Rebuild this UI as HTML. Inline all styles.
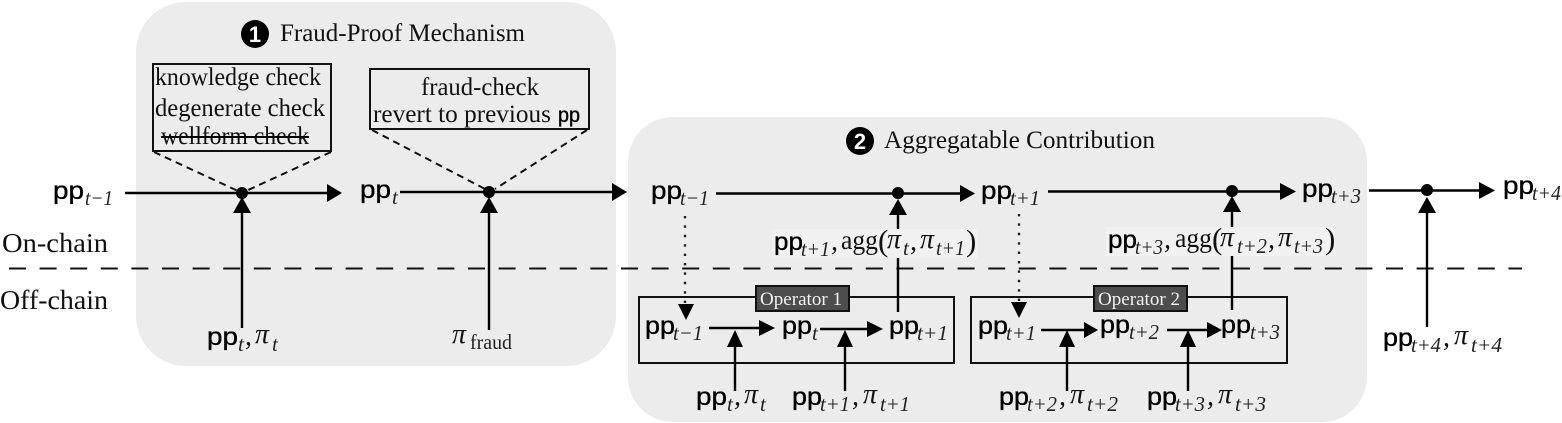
<!DOCTYPE html>
<html><head><meta charset="utf-8"><style>
html,body{margin:0;padding:0;background:#fff}
svg{display:block;filter:blur(0.35px)}
.s{font-family:"Liberation Serif",serif;font-size:25px;fill:#111}
.p{font-family:"Liberation Sans",sans-serif;font-size:25px;fill:#000;stroke:#000;stroke-width:.35}
.u{font-family:"Liberation Serif",serif;font-size:21px;font-style:italic;fill:#222}
.g{font-family:"Liberation Serif",serif;font-size:28px;font-style:italic;fill:#111}
.m{font-family:"Liberation Serif",serif;font-size:27px;fill:#111}
.b{font-family:"Liberation Serif",serif;font-size:31px;fill:#111}
.l{stroke:#000;stroke-width:2.4;fill:none}
</style></head><body>
<svg width="1562" height="423" viewBox="0 0 1562 423" xmlns="http://www.w3.org/2000/svg">
<rect x="136" y="2" width="480" height="364" rx="50" fill="#ececec"/>
<rect x="628" y="117" width="739" height="305" rx="45" fill="#ececec"/>
<!-- dashed divider -->
<line x1="9" y1="268.500" x2="1522" y2="268.500" stroke="#111" stroke-width="2" stroke-dasharray="17 13.600"/>
<!-- boxes -->
<rect x="153" y="64" width="178" height="87" fill="none" stroke="#111" stroke-width="2"/>
<rect x="370" y="69" width="219" height="60" fill="none" stroke="#111" stroke-width="2"/>
<rect x="639" y="297" width="315" height="66" fill="none" stroke="#111" stroke-width="2"/>
<rect x="971" y="297" width="316" height="66" fill="none" stroke="#111" stroke-width="2"/>
<rect x="756" y="286" width="93" height="25" fill="#4d4d4d" stroke="#111" stroke-width="2"/>
<rect x="1094" y="286" width="93" height="25" fill="#4d4d4d" stroke="#111" stroke-width="2"/>
<text x="760" y="305" font-family="Liberation Serif,serif" font-size="19" fill="#f2f2f2" textLength="82" lengthAdjust="spacingAndGlyphs">Operator 1</text>
<text x="1098" y="305" font-family="Liberation Serif,serif" font-size="19" fill="#f2f2f2" textLength="82" lengthAdjust="spacingAndGlyphs">Operator 2</text>
<!-- label backgrounds -->
<rect x="772" y="229" width="206" height="29" fill="#f1f1f1"/>
<rect x="1106" y="227" width="229" height="29" fill="#f1f1f1"/>
<!-- dashed callouts -->
<g stroke="#111" stroke-width="2" stroke-dasharray="7 5" fill="none">
<path d="M154 152L238 191M331 152L246 191M372 130L485 189M587 130L495 189"/>
</g>
<!-- dotted -->
<g stroke="#222" stroke-width="2.400" stroke-dasharray="2.400 7" fill="none">
<path d="M685 216V304M1019 214V302"/>
</g>
<!-- main lines -->
<g class="l">
<path d="M125 193H330"/>
<path d="M400 192H614"/>
<path d="M716 193.500H962"/>
<path d="M1048 191.500H1282"/>
<path d="M1369 190.500H1480"/>
<path d="M242 212V328M489 212V330"/>
<path d="M898 214V229M898 258V312"/>
<path d="M1232 212V227M1232 256V310"/>
<path d="M1427 212V327"/>
<path d="M709 328H762M820 329H870M1041 330H1086M1167 330H1210"/>
<path d="M735 346V391M845 346V391M1067 346V391M1188 346V391"/>
</g>
<!-- arrowheads -->
<g fill="#000">
<path d="M342 193L327 184V202Z"/>
<path d="M627 192L612 183V201Z"/>
<path d="M975 193.500L960 185V202Z"/>
<path d="M1296 191.500L1280 183V200Z"/>
<path d="M1495 190.500L1479 182V199Z"/>
<path d="M242 197L233 213H251Z"/>
<path d="M489 197L480 213H498Z"/>
<path d="M898 199L889 215H907Z"/>
<path d="M1232 196L1223 212H1241Z"/>
<path d="M1427 197L1418 213H1436Z"/>
<path d="M686 320L678 304H694Z"/>
<path d="M1019 318L1011 302H1027Z"/>
<path d="M775 328L759 320V336Z"/>
<path d="M883 329L867 321V337Z"/>
<path d="M1098 330L1084 322V338Z"/>
<path d="M1222 330L1207 322V338Z"/>
<path d="M735 330L727 347H743Z"/>
<path d="M845 330L837 347H853Z"/>
<path d="M1067 330L1059 347H1075Z"/>
<path d="M1188 330L1180 347H1196Z"/>
<circle cx="242" cy="193" r="6"/>
<circle cx="489" cy="192" r="6"/>
<circle cx="898" cy="193" r="6"/>
<circle cx="1232" cy="191" r="6"/>
<circle cx="1427" cy="190" r="6"/>
<circle cx="255" cy="34" r="14"/>
<circle cx="860" cy="141" r="14"/>
</g>
<text x="255" y="42" text-anchor="middle" font-family="Liberation Sans,sans-serif" font-weight="bold" font-size="22" fill="#fff">1</text>
<text x="860" y="149" text-anchor="middle" font-family="Liberation Sans,sans-serif" font-weight="bold" font-size="22" fill="#fff">2</text>
<!-- titles -->
<text class="s" x="280" y="41" textLength="245" lengthAdjust="spacingAndGlyphs">Fraud-Proof Mechanism</text>
<text class="s" x="884" y="148" textLength="271" lengthAdjust="spacingAndGlyphs">Aggregatable Contribution</text>
<text class="s" x="2" y="252" textLength="106" lengthAdjust="spacingAndGlyphs" style="font-size:27px">On-chain</text>
<text class="s" x="0" y="309" textLength="108" lengthAdjust="spacingAndGlyphs" style="font-size:27px">Off-chain</text>
<!-- box text -->
<text class="s" x="155" y="85" textLength="166" lengthAdjust="spacingAndGlyphs">knowledge check</text>
<text class="s" x="155" y="116" textLength="170" lengthAdjust="spacingAndGlyphs">degenerate check</text>
<text class="s" x="161" y="144" textLength="148" lengthAdjust="spacingAndGlyphs">wellform check</text>
<line x1="161" y1="137" x2="309" y2="137" stroke="#000" stroke-width="2"/>
<text class="s" x="421" y="95" textLength="118" lengthAdjust="spacingAndGlyphs">fraud-check</text>
<text class="s" x="373" y="122" textLength="178" lengthAdjust="spacingAndGlyphs">revert to previous</text>
<text class="p" x="558" y="122" textLength="22" lengthAdjust="spacingAndGlyphs" style="font-size:21px">pp</text>
<!-- top labels -->
<text class="p" x="53" y="199" textLength="31" lengthAdjust="spacingAndGlyphs">pp</text><text class="u" x="85" y="205" textLength="28" lengthAdjust="spacingAndGlyphs">t−1</text>
<text class="p" x="360" y="198" textLength="31" lengthAdjust="spacingAndGlyphs">pp</text><text class="u" x="392" y="204">t</text>
<text class="p" x="651" y="199" textLength="31" lengthAdjust="spacingAndGlyphs">pp</text><text class="u" x="680" y="205" textLength="29" lengthAdjust="spacingAndGlyphs">t−1</text>
<text class="p" x="981" y="199" textLength="31" lengthAdjust="spacingAndGlyphs">pp</text><text class="u" x="1010" y="205" textLength="30" lengthAdjust="spacingAndGlyphs">t+1</text>
<text class="p" x="1302" y="197" textLength="31" lengthAdjust="spacingAndGlyphs">pp</text><text class="u" x="1331" y="203" textLength="30" lengthAdjust="spacingAndGlyphs">t+3</text>
<text class="p" x="1503" y="194" textLength="31" lengthAdjust="spacingAndGlyphs">pp</text><text class="u" x="1532" y="200" textLength="29" lengthAdjust="spacingAndGlyphs">t+4</text>
<!-- panel 1 bottom -->
<text class="p" x="207" y="345" textLength="31" lengthAdjust="spacingAndGlyphs">pp</text><text class="u" x="238" y="351">t</text><text class="g" x="245" y="345">,</text><text class="g" x="255" y="343">π</text><text class="u" x="272" y="351">t</text>
<text class="g" x="452" y="343">π</text><text class="u" x="470" y="349" textLength="42" lengthAdjust="spacingAndGlyphs" style="font-style:normal">fraud</text>
<!-- agg labels -->
<text class="p" x="774" y="250" textLength="29" lengthAdjust="spacingAndGlyphs">pp</text><text class="u" x="801" y="256" textLength="29" lengthAdjust="spacingAndGlyphs">t+1</text><text class="g" x="831" y="250">,</text><text class="m" x="841" y="249" textLength="37" lengthAdjust="spacingAndGlyphs">agg</text><text class="b" x="878" y="251">(</text><text class="g" x="887" y="248">π</text><text class="u" x="903" y="255">t</text><text class="g" x="910" y="250">,</text><text class="g" x="920" y="248">π</text><text class="u" x="936" y="255" textLength="29" lengthAdjust="spacingAndGlyphs">t+1</text><text class="b" x="966" y="251">)</text>
<text class="p" x="1108" y="248" textLength="29" lengthAdjust="spacingAndGlyphs">pp</text><text class="u" x="1135" y="254" textLength="28" lengthAdjust="spacingAndGlyphs">t+3</text><text class="g" x="1164" y="248">,</text><text class="m" x="1175" y="247" textLength="37" lengthAdjust="spacingAndGlyphs">agg</text><text class="b" x="1212" y="249">(</text><text class="g" x="1220" y="246">π</text><text class="u" x="1237" y="253" textLength="30" lengthAdjust="spacingAndGlyphs">t+2</text><text class="g" x="1268" y="248">,</text><text class="g" x="1278" y="246">π</text><text class="u" x="1294" y="253" textLength="29" lengthAdjust="spacingAndGlyphs">t+3</text><text class="b" x="1325" y="249">)</text>
<!-- operator 1 -->
<text class="p" x="645" y="334" textLength="30" lengthAdjust="spacingAndGlyphs">pp</text><text class="u" x="673" y="340" textLength="30" lengthAdjust="spacingAndGlyphs">t−1</text>
<text class="p" x="782" y="334" textLength="30" lengthAdjust="spacingAndGlyphs">pp</text><text class="u" x="812" y="340">t</text>
<text class="p" x="889" y="334" textLength="30" lengthAdjust="spacingAndGlyphs">pp</text><text class="u" x="917" y="340" textLength="31" lengthAdjust="spacingAndGlyphs">t+1</text>
<!-- operator 2 -->
<text class="p" x="978" y="334" textLength="30" lengthAdjust="spacingAndGlyphs">pp</text><text class="u" x="1006" y="340" textLength="30" lengthAdjust="spacingAndGlyphs">t+1</text>
<text class="p" x="1100" y="333" textLength="30" lengthAdjust="spacingAndGlyphs">pp</text><text class="u" x="1129" y="339" textLength="30" lengthAdjust="spacingAndGlyphs">t+2</text>
<text class="p" x="1221" y="333" textLength="30" lengthAdjust="spacingAndGlyphs">pp</text><text class="u" x="1250" y="339" textLength="30" lengthAdjust="spacingAndGlyphs">t+3</text>
<!-- bottom labels -->
<text class="p" x="696" y="405" textLength="31" lengthAdjust="spacingAndGlyphs">pp</text><text class="u" x="727" y="411">t</text><text class="g" x="734" y="405">,</text><text class="g" x="744" y="403">π</text><text class="u" x="760" y="411">t</text>
<text class="p" x="792" y="405" textLength="30" lengthAdjust="spacingAndGlyphs">pp</text><text class="u" x="820" y="411" textLength="30" lengthAdjust="spacingAndGlyphs">t+1</text><text class="g" x="852" y="405">,</text><text class="g" x="863" y="403">π</text><text class="u" x="880" y="411" textLength="30" lengthAdjust="spacingAndGlyphs">t+1</text>
<text class="p" x="999" y="405" textLength="30" lengthAdjust="spacingAndGlyphs">pp</text><text class="u" x="1027" y="411" textLength="30" lengthAdjust="spacingAndGlyphs">t+2</text><text class="g" x="1059" y="405">,</text><text class="g" x="1070" y="403">π</text><text class="u" x="1087" y="411" textLength="31" lengthAdjust="spacingAndGlyphs">t+2</text>
<text class="p" x="1147" y="405" textLength="30" lengthAdjust="spacingAndGlyphs">pp</text><text class="u" x="1175" y="411" textLength="30" lengthAdjust="spacingAndGlyphs">t+3</text><text class="g" x="1207" y="405">,</text><text class="g" x="1218" y="403">π</text><text class="u" x="1235" y="411" textLength="31" lengthAdjust="spacingAndGlyphs">t+3</text>
<text class="p" x="1383" y="346" textLength="30" lengthAdjust="spacingAndGlyphs">pp</text><text class="u" x="1411" y="352" textLength="30" lengthAdjust="spacingAndGlyphs">t+4</text><text class="g" x="1443" y="346">,</text><text class="g" x="1454" y="344">π</text><text class="u" x="1471" y="352" textLength="31" lengthAdjust="spacingAndGlyphs">t+4</text>
</svg>
</body></html>
